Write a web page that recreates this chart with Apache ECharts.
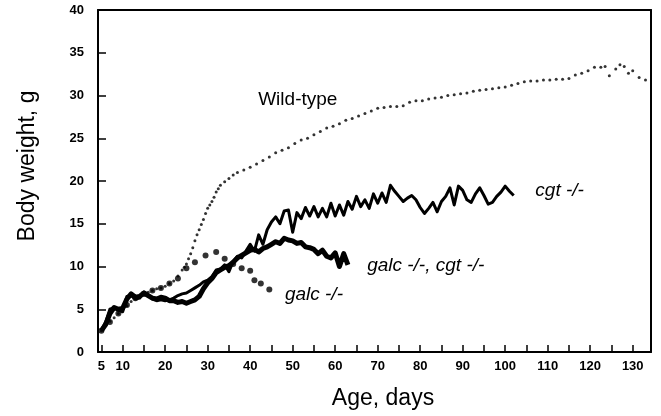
<!DOCTYPE html>
<html>
<head>
<meta charset="utf-8">
<script src="https://cdn.jsdelivr.net/npm/echarts@6/dist/echarts.min.js"></script>
<style>
  html, body { margin: 0; padding: 0; background: #fff; }
  #chart { width: 661px; height: 416px; }
</style>
</head>
<body>
<div id="chart"></div>
<script>
// tick positions (days) and label positions
const xTicks = [5, 10, 15, 20, 25, 30, 35, 40, 45, 50, 55, 60, 65, 70, 75, 80, 85, 90, 95, 100, 105, 110, 115, 120, 125, 130];
const xLabels = [5, 10, 20, 30, 40, 50, 60, 70, 80, 90, 100, 110, 120, 130];

// Wild-type: [day, g], one dot per reading
const wildType = [
  [5, 2.5], [6, 3.1], [7, 3.6], [8, 4.0], [9, 4.5], [10, 5.0], [11, 5.4], [12, 5.9], [13, 6.3],
  [14, 6.6], [15, 6.8], [16, 7.0], [17, 7.2], [18, 7.4], [19, 7.5], [20, 7.7], [21, 8.0], [22, 8.3],
  [23, 8.9], [24, 9.6], [24.5, 9.9], [25, 10.3], [25.5, 10.9], [26, 11.5], [26.5, 12.2], [27, 13.0],
  [27.5, 13.7], [28, 14.3], [28.5, 14.9], [29, 15.5], [29.5, 16.2], [30, 16.8], [30.5, 17.2],
  [31, 17.6], [31.5, 18.1], [32, 18.7], [32.5, 19.1], [33, 19.5], [34, 19.9], [35, 20.3], [36, 20.7],
  [37, 21.0], [38.5, 21.3], [40, 21.6], [41.5, 22.0], [43, 22.4], [44.5, 22.8], [46, 23.3],
  [47.5, 23.6], [49, 23.9], [50.5, 24.4], [52, 24.8], [53.5, 25.0], [55, 25.4], [56.5, 25.8],
  [58, 26.2], [59.5, 26.4], [61, 26.7], [62.5, 27.1], [64, 27.3], [65.5, 27.6], [67, 27.9],
  [68.5, 28.2], [70, 28.5], [71.5, 28.6], [73, 28.7], [74.5, 28.7], [76, 28.8], [77.5, 29.2],
  [79, 29.4], [80.5, 29.4], [82, 29.6], [83.5, 29.7], [85, 29.8], [86.5, 30.0], [88, 30.1],
  [89.5, 30.2], [91, 30.3], [92.5, 30.5], [94, 30.6], [95.5, 30.7], [97, 30.8], [98.5, 30.9],
  [100, 31.0], [101.5, 31.2], [103, 31.4], [104.5, 31.6], [106, 31.7], [107.5, 31.7], [109, 31.8],
  [110.5, 31.8], [112, 31.9], [113.5, 31.9], [115, 32.0], [116.5, 32.4], [118, 32.6], [119.5, 32.9],
  [121, 33.3], [122.5, 33.3], [123.5, 33.4], [124.5, 32.3], [126, 33.1], [127, 33.6], [128, 33.4],
  [129, 32.6], [130, 32.9], [131.5, 32.1], [133, 31.8]
];

// galc -/-
const galc = [
  [5, 2.5], [7, 3.5], [9, 4.5], [11, 5.5], [13, 6.3], [15, 6.8], [17, 7.2], [19, 7.5], [21, 8.0],
  [23, 8.6], [25, 9.8], [27, 10.5], [29.5, 11.3], [32, 11.7], [34, 10.9], [36, 10.3], [38, 9.8],
  [40, 9.5], [41, 8.4], [42.5, 8.0], [44.5, 7.3]
];

// cgt -/-
const cgtDays = [];
for (let d = 5; d <= 102; d++) cgtDays.push(d);
const cgt = [
  2.6, 3.5, 5.0, 5.2, 4.9, 4.7, 6.5, 6.6, 6.2, 6.3, 7.0, 6.7, 6.2, 6.0, 6.1, 6.0, 6.1, 6.3, 6.6, 6.8,
  6.9, 7.2, 7.5, 7.8, 8.2, 8.4, 8.8, 9.6, 9.7, 10.2, 9.4, 10.6, 11.2, 11.0, 11.8, 12.6, 11.8, 13.7,
  12.6, 14.3, 15.2, 15.8, 15.0, 16.5, 16.6, 14.0, 16.3, 15.6, 16.9, 15.9, 17.0, 15.8, 16.8, 15.8,
  17.4, 15.9, 17.2, 16.0, 17.6, 16.7, 18.2, 17.0, 17.8, 16.8, 18.5, 17.4, 18.6, 17.5, 19.5, 18.8,
  18.2, 17.6, 18.0, 18.3, 17.8, 16.9, 16.2, 16.8, 17.5, 16.4, 17.6, 18.2, 19.2, 17.2, 19.4, 18.9,
  17.8, 17.5, 18.5, 19.2, 18.3, 17.3, 17.5, 18.2, 18.7, 19.4, 18.8, 18.3
];

// galc -/-, cgt -/-
const dkoDays = [];
for (let d = 5; d <= 63; d++) dkoDays.push(d);
const dko = [
  2.5, 3.2, 4.5, 5.2, 5.0, 5.1, 6.2, 6.8, 6.4, 6.5, 6.9, 6.6, 6.3, 6.2, 6.4, 6.3, 6.0, 6.0, 5.8, 5.9,
  5.7, 5.9, 6.1, 6.5, 7.4, 8.1, 8.6, 9.3, 9.6, 9.9, 10.1, 10.5, 11.0, 11.3, 11.6, 11.9, 12.0, 11.7,
  12.1, 12.3, 12.6, 12.9, 12.7, 13.3, 13.1, 13.0, 12.7, 12.8, 12.3, 12.2, 12.0, 11.5, 11.9, 11.2,
  11.0, 11.6, 10.0, 11.5, 10.2
];

// curve labels in data coordinates
const labelText = ['Wild-type', 'cgt -/-', 'galc -/-, cgt -/-', 'galc -/-'];
const labelAt = [[51.2, 29.5], [112.8, 18.9], [81.3, 10.1], [55, 6.7]];
const labelItalic = [false, true, true, true];

const font = '"Liberation Sans", Arial, sans-serif';
const chart = echarts.init(document.getElementById('chart'));

const frameAxis = {
  type: 'value',
  splitLine: { show: false },
  axisLine: { show: true, onZero: false, lineStyle: { color: '#000', width: 2 } },
  axisTick: { show: false },
  axisLabel: { show: false }
};

const option = {
  animation: false,
  textStyle: { fontFamily: font },
  grid: { left: 98, right: 10, top: 10, bottom: 64 },
  xAxis: [
    {
      type: 'value',
      min: 4.2,
      max: 134.3,
      splitLine: { show: false },
      axisLine: { show: true, onZero: false, lineStyle: { color: '#000', width: 2 } },
      axisTick: { show: true, inside: true, length: 7, customValues: xTicks, lineStyle: { color: '#000', width: 1.5 } },
      axisLabel: { customValues: xLabels, color: '#000', fontWeight: 'bold', fontSize: 13 }
    },
    Object.assign({ position: 'top', min: 4.2, max: 134.3 }, frameAxis)
  ],
  yAxis: [
    {
      type: 'value',
      min: 0,
      max: 40,
      interval: 5,
      splitLine: { show: false },
      axisLine: { show: true, onZero: false, lineStyle: { color: '#000', width: 2 } },
      axisTick: { show: true, inside: true, length: 8, lineStyle: { color: '#000', width: 1.5 } },
      axisLabel: { color: '#000', fontWeight: 'bold', fontSize: 13, margin: 14 }
    },
    Object.assign({ position: 'right', min: 0, max: 40 }, frameAxis)
  ],
  series: [
    {
      name: 'Wild-type',
      type: 'scatter',
      data: wildType,
      symbol: 'circle',
      symbolSize: 3,
      itemStyle: { color: '#000' }
    },
    {
      name: 'cgt -/-',
      type: 'line',
      data: cgtDays.map((d, i) => [d, cgt[i]]),
      showSymbol: false,
      lineStyle: { color: '#000', width: 3, join: 'round' }
    },
    {
      name: 'galc -/-, cgt -/-',
      type: 'line',
      data: dkoDays.map((d, i) => [d, dko[i]]),
      showSymbol: false,
      lineStyle: { color: '#000', width: 5, join: 'round' }
    },
    {
      name: 'galc -/-',
      type: 'scatter',
      data: galc,
      symbol: 'circle',
      symbolSize: 6,
      itemStyle: { color: '#000' }
    }
  ]
};
chart.setOption(option);

// axis titles and curve labels
const graphics = [
  {
    type: 'text', x: 383, y: 399,
    style: { text: 'Age, days', font: '23px ' + font, fill: '#000', textAlign: 'center', textVerticalAlign: 'middle' }
  },
  {
    type: 'text', x: 28, y: 166, rotation: Math.PI / 2,
    style: { text: 'Body weight, g', font: '23px ' + font, fill: '#000', textAlign: 'center', textVerticalAlign: 'middle' }
  }
];
labelAt.forEach((at, i) => {
  const p = chart.convertToPixel({ xAxisIndex: 0, yAxisIndex: 0 }, at);
  graphics.push({
    type: 'text', x: p[0], y: p[1],
    style: {
      text: labelText[i],
      font: (labelItalic[i] ? 'italic ' : '') + '19px ' + font,
      fill: '#000', textAlign: 'center', textVerticalAlign: 'middle'
    }
  });
});
chart.setOption({ graphic: graphics });
</script>
</body>
</html>
